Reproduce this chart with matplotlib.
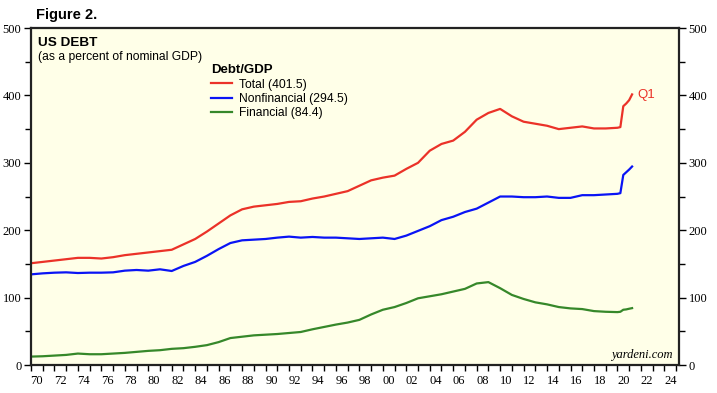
import numpy as np
import matplotlib
matplotlib.use('Agg')
import matplotlib.pyplot as plt
from matplotlib.ticker import MultipleLocator, FixedLocator

plt.rcParams['font.family'] = ['Liberation Sans', 'DejaVu Sans']

# 数据 (读自原图, 年份)
years = [1970, 1971, 1972, 1973, 1974, 1975, 1976, 1977, 1978, 1979,
         1980, 1981, 1982, 1983, 1984, 1985, 1986, 1987, 1988, 1989,
         1990, 1991, 1992, 1993, 1994, 1995, 1996, 1997, 1998, 1999,
         2000, 2001, 2002, 2003, 2004, 2005, 2006, 2007, 2008, 2009,
         2010, 2011, 2012, 2013, 2014, 2015, 2016, 2017, 2018, 2019,
         2020.0, 2020.25, 2020.5, 2020.75, 2021.0, 2021.25]

total = [151, 153, 155, 157, 159, 159, 158, 160, 163, 165,
         167, 169, 171, 179, 187, 198, 210, 222, 231, 235,
         237, 239, 242, 243, 247, 250, 254, 258, 266, 274,
         278, 281, 291, 300, 318, 328, 333, 346, 364, 374,
         380, 369, 361, 358, 355, 350, 352, 354, 351, 351,
         352, 353, 384, 388, 393, 401.5]

nonfinancial = [134.5, 136, 137, 137.5, 136.5, 137, 137, 137.5, 140, 141,
                140, 142, 139.5, 147, 153, 162, 172, 181, 185, 186,
                187, 189, 190.5, 189, 190, 189, 189, 188, 187, 188,
                189, 187, 192, 199, 206, 215, 220, 227, 232, 241,
                250, 250, 249, 249, 250, 248, 248, 252, 252, 253,
                254, 255, 282, 286, 290, 294.5]

financial = [12.5, 13, 14, 15, 17, 16, 16, 17, 18, 19.5,
             21, 22, 24, 25, 27, 29.5, 34, 40, 42, 44,
             45, 46, 47.5, 49, 53, 56.5, 60, 63, 67, 75,
             82, 86, 92, 99, 102, 105, 109, 113, 121, 123,
             114, 104, 98, 93, 90, 86, 84, 83, 80, 79,
             78.5, 79, 82, 82.5, 83.5, 84.4]

series_names = ['Total (401.5)', 'Nonfinancial (294.5)', 'Financial (84.4)']
series_colors = ['#EB3228', '#0A14F5', '#36882A']
year_labels = ['%02d' % (y % 100) for y in range(1970, 2025, 2)]

fig = plt.figure(figsize=(7.17, 3.93), dpi=100)
ax = fig.add_axes([0.0432, 0.0712, 0.9038, 0.8575])
ax.set_facecolor('#FFFFE8')

for vals, name, col in zip([total, nonfinancial, financial], series_names, series_colors):
    ax.plot(years, vals, color=col, lw=1.6, label=name)

ax.set_xlim(1970, 2025.25)
ax.set_ylim(0, 500)

# x轴: 每年一个刻度, 标签放在偶数年的年中
ax.xaxis.set_major_locator(FixedLocator([y + 0.5 for y in range(1970, 2025, 2)]))
ax.set_xticklabels(year_labels)
ax.xaxis.set_minor_locator(MultipleLocator(1))
ax.tick_params(axis='x', which='major', length=0, pad=7)
ax.tick_params(axis='x', which='minor', length=4, width=1, direction='out')

# y轴: 两侧都有
ax.yaxis.set_major_locator(MultipleLocator(100))
ax.yaxis.set_minor_locator(MultipleLocator(50))
ax.tick_params(axis='y', which='both', left=True, right=True, labelleft=True, labelright=True,
               direction='out', width=1)
ax.tick_params(axis='y', which='major', length=5, pad=2)
ax.tick_params(axis='y', which='minor', length=4)

for lab in ax.get_xticklabels() + ax.get_yticklabels():
    lab.set_family('Liberation Serif')
    lab.set_fontsize(9)

for s in ax.spines.values():
    s.set_linewidth(1.6)
    s.set_color('#222222')

fig.text(0.05, 0.962, 'Figure 2.', fontsize=10.5, fontweight='bold', va='center')
ax.text(0.011, 0.957, 'US DEBT', transform=ax.transAxes, fontsize=9.7, fontweight='bold', va='center')
ax.text(0.011, 0.915, '(as a percent of nominal GDP)', transform=ax.transAxes, fontsize=8.7, va='center')

leg = ax.legend(loc='upper left', bbox_to_anchor=(0.265, 0.918), frameon=False, fontsize=8.7,
                title='Debt/GDP', alignment='left', title_fontproperties={'weight': 'bold', 'size': 9.5},
                handlelength=1.7, handletextpad=0.6, labelspacing=0.2, borderpad=0.2)

ax.text(2021.7, 401, 'Q1', color='#EB3228', fontsize=9.5, va='center')
ax.text(0.99, 0.012, 'yardeni.com', transform=ax.transAxes, ha='right', va='bottom',
        fontsize=9, style='italic', family='Liberation Serif')

fig.savefig('out.png', dpi=100, facecolor='white')
